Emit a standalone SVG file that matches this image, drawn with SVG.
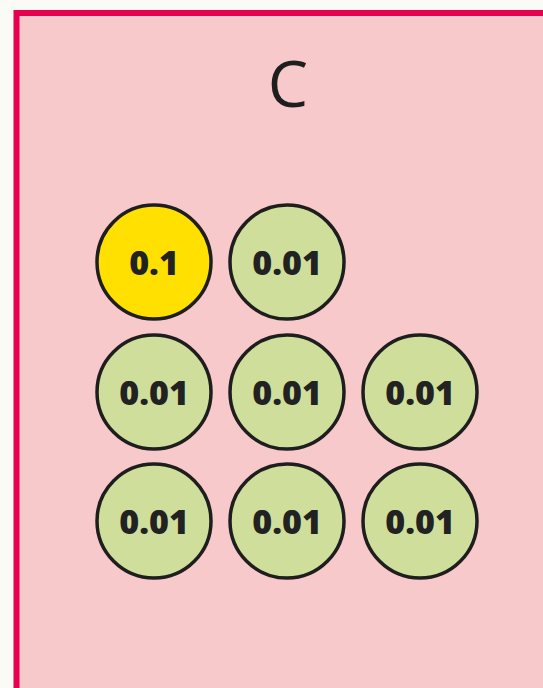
<svg xmlns="http://www.w3.org/2000/svg" width="543" height="688" viewBox="0 0 543 688">
<style>
.c{stroke:#1e1e1e;stroke-width:3.5}
.g{fill:#cfdf9b}
.y{fill:#ffe000}
.t{font-family:"Open Sans","Noto Sans",sans-serif;font-weight:800;font-size:34px;fill:#222;text-anchor:middle}
</style>
<rect x="0" y="0" width="543" height="688" fill="#fafaf6"/>
<g id="panel">
<rect x="16.5" y="13" width="560" height="700" fill="#f8c9ca" stroke="#e6004e" stroke-width="6"/>
<text x="288" y="107" font-family="Open Sans,Noto Sans,sans-serif" font-size="64" fill="#1e1e1e" text-anchor="middle">C</text>
</g>
<g id="connectors"/>
<g id="n1"><circle class="c y" cx="154" cy="262" r="57"/><text class="t" x="154" y="275">0.1</text></g>
<g id="n2"><circle class="c g" cx="287" cy="262" r="57"/><text class="t" x="287" y="275">0.01</text></g>
<g id="n3"><circle class="c g" cx="154" cy="392" r="57"/><text class="t" x="154" y="405">0.01</text></g>
<g id="n4"><circle class="c g" cx="287" cy="392" r="57"/><text class="t" x="287" y="405">0.01</text></g>
<g id="n5"><circle class="c g" cx="420" cy="392" r="57"/><text class="t" x="420" y="405">0.01</text></g>
<g id="n6"><circle class="c g" cx="154" cy="521" r="57"/><text class="t" x="154" y="534">0.01</text></g>
<g id="n7"><circle class="c g" cx="287" cy="521" r="57"/><text class="t" x="287" y="534">0.01</text></g>
<g id="n8"><circle class="c g" cx="420" cy="521" r="57"/><text class="t" x="420" y="534">0.01</text></g>
</svg>
